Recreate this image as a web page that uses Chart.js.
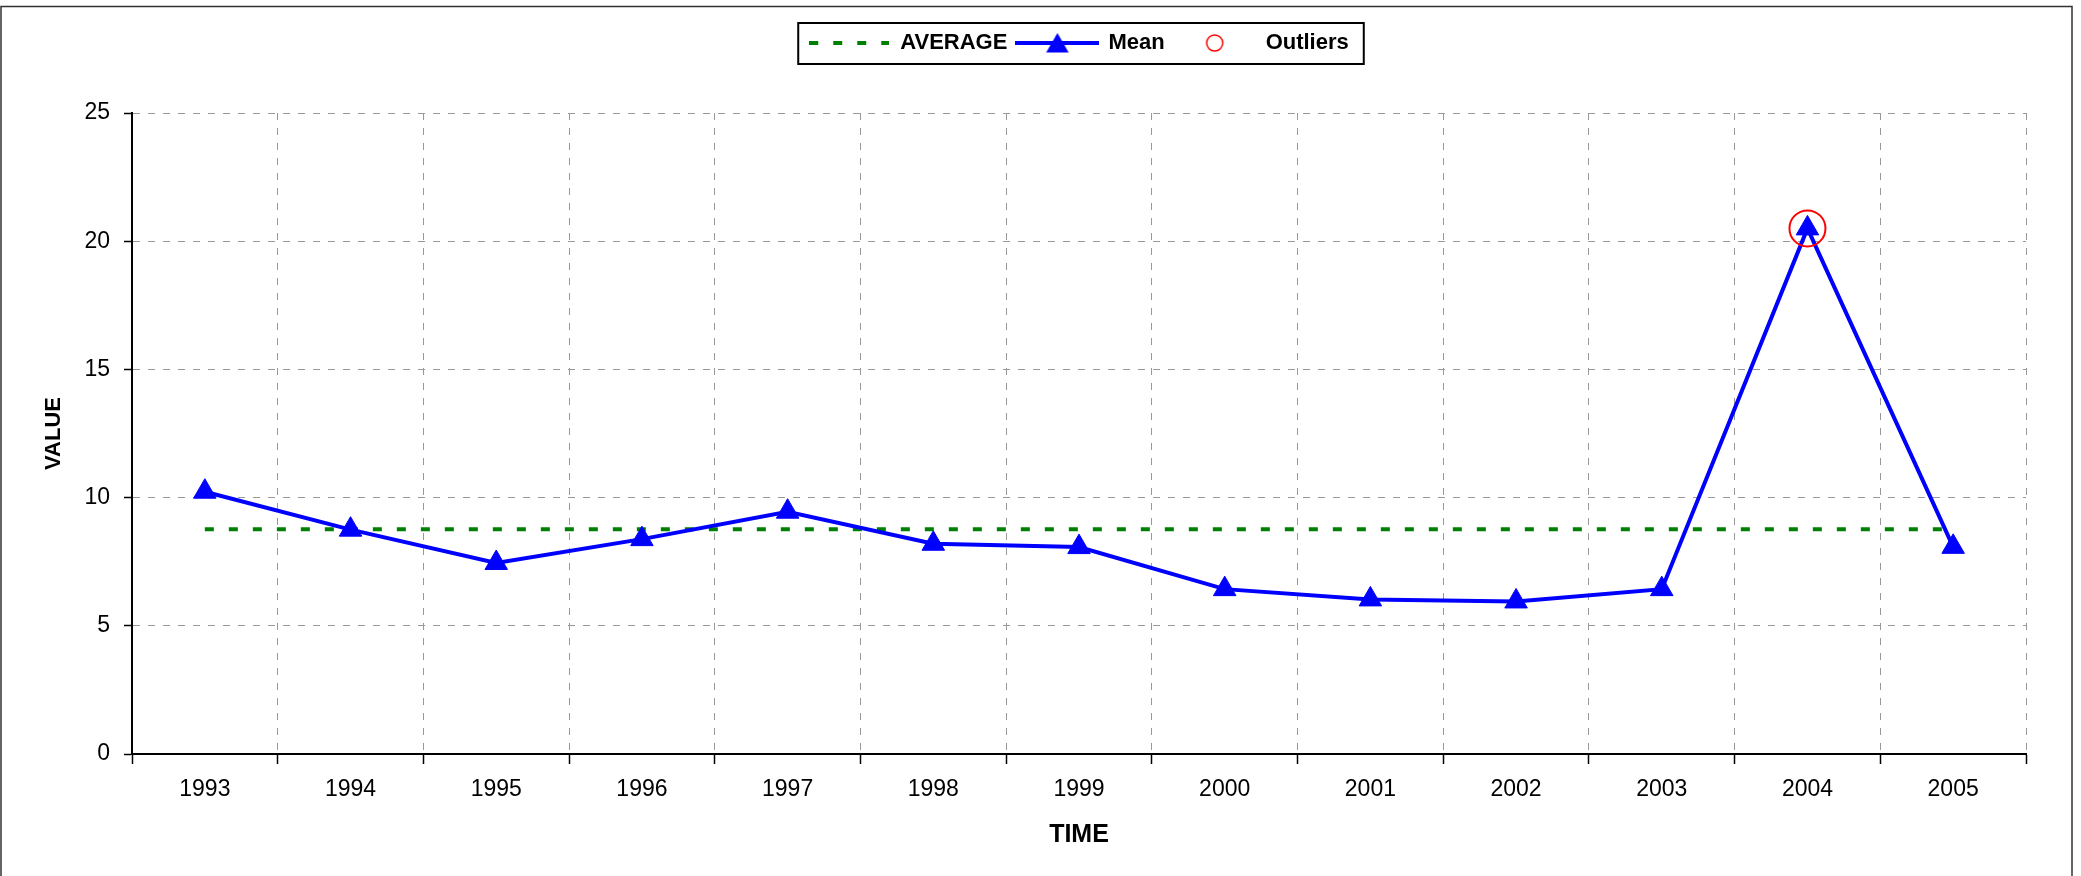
<!DOCTYPE html>
<html lang="en">
<head>
  <meta charset="UTF-8">
  <title>Mean per year</title>
  <script src="https://cdn.jsdelivr.net/npm/chart.js@4.4.0/dist/chart.umd.min.js"></script>
  <style>
    body { margin: 0; background: #fff; }
  </style>
</head>
<body>
  <canvas id="chart" width="2081" height="876"></canvas>

  <script>
    // values
    const years = ['1993', '1994', '1995', '1996', '1997', '1998', '1999', '2000', '2001', '2002', '2003', '2004', '2005'];
    const meanValues = [10.23, 8.75, 7.45, 8.38, 9.45, 8.2, 8.07, 6.43, 6.03, 5.95, 6.43, 20.5, 8.08];
    const averageValues = [8.77, 8.77, 8.77, 8.77, 8.77, 8.77, 8.77, 8.77, 8.77, 8.77, 8.77, 8.77, 8.77];
    const outlierValues = [null, null, null, null, null, null, null, null, null, null, null, 20.5, null];
    const valueTicks = [0, 5, 10, 15, 20, 25];

    const green = '#008000';
    const blue = '#0000ff';
    const red = '#ff0000';

    Chart.defaults.font.family = "'Liberation Sans', Arial, sans-serif";
    Chart.defaults.color = '#000';

    // little pictures for the legend keys
    function sample(w, h, draw) {
      const c = document.createElement('canvas');
      c.width = w;
      c.height = h;
      draw(c.getContext('2d'), w, h);
      return c;
    }
    const avgKey = sample(80, 10, (ctx, w, h) => {
      ctx.strokeStyle = green;
      ctx.lineWidth = 4;
      ctx.setLineDash([9, 15]);
      ctx.beginPath(); ctx.moveTo(0, h / 2); ctx.lineTo(w, h / 2); ctx.stroke();
    });
    const meanKey = sample(84, 30, (ctx, w, h) => {
      ctx.strokeStyle = blue;
      ctx.fillStyle = blue;
      ctx.lineWidth = 4;
      ctx.beginPath(); ctx.moveTo(0, h / 2); ctx.lineTo(w, h / 2); ctx.stroke();
      const r = 13, cx = w / 2, cy = h / 2 + 3;
      ctx.beginPath();
      ctx.moveTo(cx, cy - r);
      ctx.lineTo(cx + r * 0.866, cy + r / 2);
      ctx.lineTo(cx - r * 0.866, cy + r / 2);
      ctx.closePath();
      ctx.fill();
    });
    const outlierKey = sample(22, 22, (ctx, w, h) => {
      ctx.strokeStyle = red;
      ctx.lineWidth = 1.5;
      ctx.beginPath(); ctx.arc(w / 2, h / 2, 8, 0, Math.PI * 2); ctx.stroke();
    });

    // legend sits centred over the plot with a frame, whole chart has a thin frame
    const frames = {
      id: 'frames',
      afterLayout(chart) {
        const lg = chart.legend;
        lg.left = chart.chartArea.left;
        lg.right = chart.chartArea.right;
        lg.top = 22;
        lg.bottom = 22 + lg.height;
      },
      afterDraw(chart) {
        const ctx = chart.ctx;
        const lg = chart.legend;
        const pad = lg.options.labels.padding;
        const lw = lg.lineWidths[0];
        const start = (lg.left + pad + lg.right - lw) / 2;
        ctx.save();
        ctx.strokeStyle = '#000';
        ctx.lineWidth = 2;
        ctx.strokeRect(start - 11, lg.top + 1, lw + 16, 41);
        ctx.strokeStyle = '#333';
        ctx.lineWidth = 1.5;
        ctx.strokeRect(1, 6.5, 2071, 900);
        ctx.restore();
      }
    };

    const ctx = document.getElementById('chart').getContext('2d');
    const myChart = new Chart(ctx, {
      type: 'line',
      data: {
        labels: years,
        datasets: [
          {
            label: 'AVERAGE',
            data: averageValues,
            borderColor: green,
            borderWidth: 4,
            borderDash: [9, 15],
            pointRadius: 0,
            order: 2
          },
          {
            label: 'Mean',
            data: meanValues,
            borderColor: blue,
            borderWidth: 4,
            pointStyle: 'triangle',
            pointRadius: 13,
            pointBackgroundColor: blue,
            pointBorderColor: blue,
            pointBorderWidth: 1,
            tension: 0,
            order: 1
          },
          {
            label: 'Outliers',
            data: outlierValues,
            showLine: false,
            pointStyle: 'circle',
            pointRadius: 18,
            pointBackgroundColor: 'rgba(0,0,0,0)',
            pointBorderColor: red,
            pointBorderWidth: 2,
            order: 0
          }
        ]
      },
      options: {
        responsive: false,
        animation: false,
        events: [],
        layout: { padding: { top: 71, left: 0, right: 55, bottom: 0 } },
        plugins: {
          tooltip: { enabled: false },
          legend: {
            position: 'top',
            labels: {
              usePointStyle: true,
              pointStyleWidth: 80,
              padding: 10,
              color: '#000',
              font: { size: 22, weight: 'bold' },
              generateLabels: () => [
                { text: 'AVERAGE', pointStyle: avgKey, datasetIndex: 0, lineWidth: 0, hidden: false },
                { text: 'Mean', pointStyle: meanKey, datasetIndex: 1, lineWidth: 0, hidden: false },
                { text: 'Outliers', pointStyle: outlierKey, datasetIndex: 2, lineWidth: 0, hidden: false }
              ]
            }
          }
        },
        scales: {
          x: {
            offset: true,
            grid: {
              offset: true,
              color: '#999',
              lineWidth: 1,
              tickColor: '#000',
              tickLength: 10,
              tickWidth: 1.5
            },
            border: { display: true, color: '#000', width: 2, dash: [7, 8] },
            ticks: { font: { size: 23 }, color: '#000', padding: 12, maxRotation: 0 },
            title: {
              display: true,
              text: 'TIME',
              color: '#000',
              font: { size: 25, weight: 'bold' },
              padding: { top: 0, bottom: 26 }
            },
            afterFit: scale => { scale.height = 122; }
          },
          y: {
            min: valueTicks[0],
            max: valueTicks[valueTicks.length - 1],
            grid: {
              color: '#999',
              lineWidth: 1,
              tickColor: '#000',
              tickLength: 8,
              tickWidth: 1.5
            },
            border: { display: true, color: '#000', width: 2, dash: [7, 8] },
            ticks: {
              stepSize: valueTicks[1] - valueTicks[0],
              font: { size: 23 },
              color: '#000',
              padding: 14
            },
            title: {
              display: true,
              text: 'VALUE',
              color: '#000',
              font: { size: 22, weight: 'bold' },
              padding: { top: 41, bottom: 0 }
            },
            afterFit: scale => { scale.width = 132; }
          }
        }
      },
      plugins: [frames]
    });
  </script>
</body>
</html>
